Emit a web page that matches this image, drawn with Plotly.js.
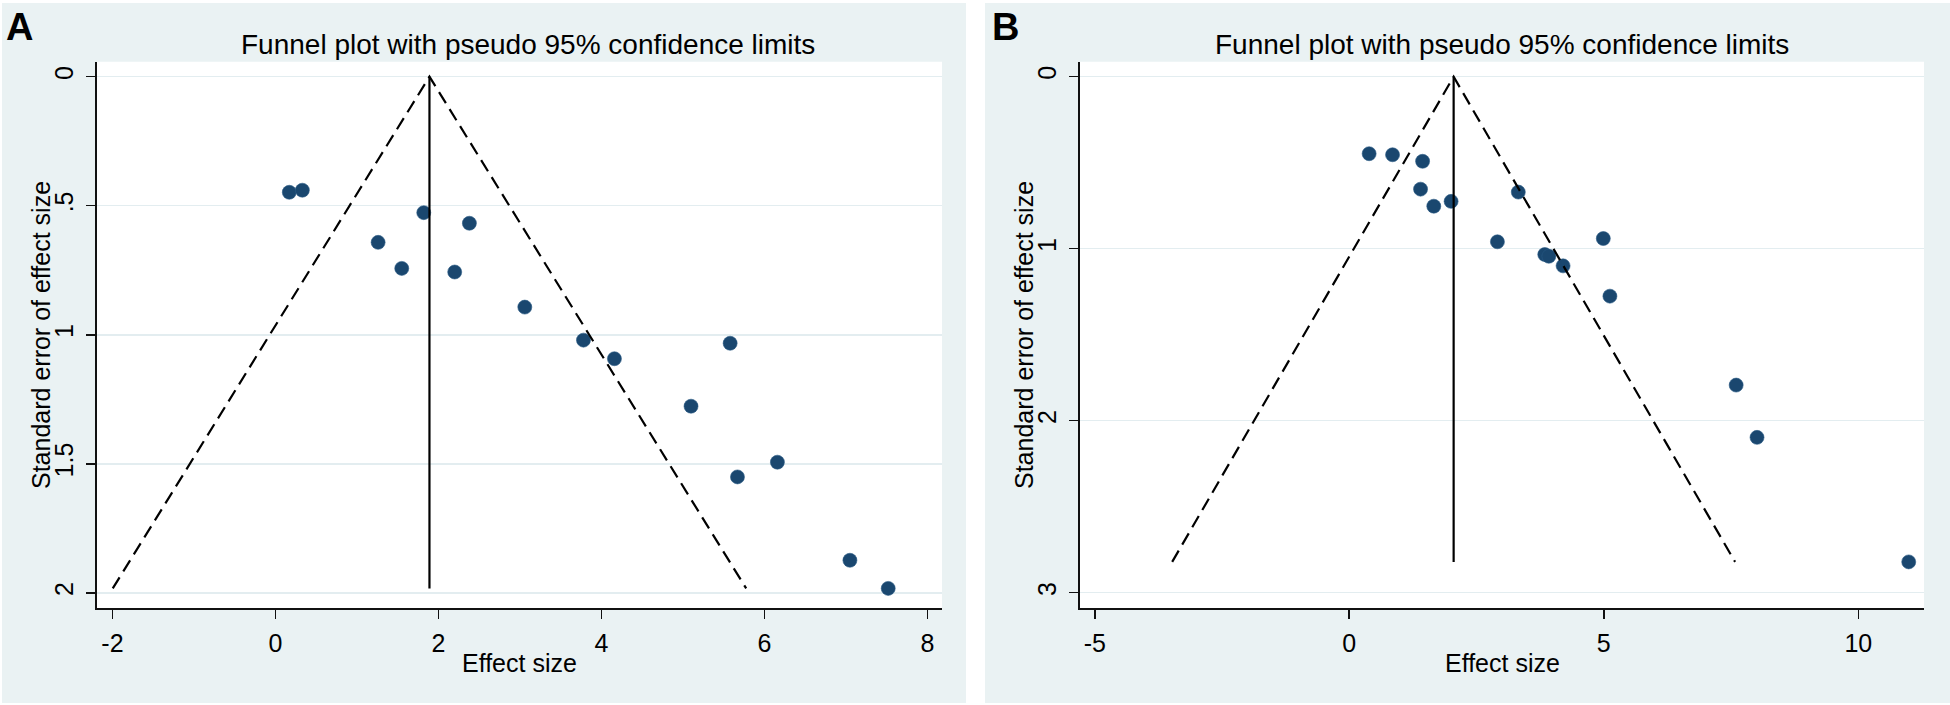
<!DOCTYPE html>
<html>
<head>
<meta charset="utf-8">
<script src="https://cdn.plot.ly/plotly-3.0.1.min.js"></script>
<style>html,body{margin:0;padding:0;background:#fff;}#chart{width:1950px;height:705px;}</style>
</head>
<body>
<div id="chart"></div>
<script>
// ---- data ----
const titleText = "Funnel plot with pseudo 95% confidence limits";
const xTitle = "Effect size";
const yTitle = "Standard error of effect size";

// Panel A
const pooledA = 1.89;
const effectA = [0.17, 0.33, 1.26, 1.55, 1.82, 2.38, 2.20, 3.06, 3.78, 4.16, 5.58, 5.10, 5.67, 6.16, 7.05, 7.52];
const seA     = [0.448, 0.440, 0.642, 0.743, 0.527, 0.568, 0.757, 0.893, 1.021, 1.093, 1.033, 1.277, 1.551, 1.494, 1.874, 1.983];
const xTickA = [-2, 0, 2, 4, 6, 8];
const yTickA = [0, 0.5, 1, 1.5, 2];
const yTickTextA = ["0", ".5", "1", "1.5", "2"];

// Panel B
const pooledB = 2.05;
const effectB = [0.39, 0.85, 1.44, 1.40, 1.66, 2.00, 3.32, 2.91, 4.99, 3.84, 3.92, 4.20, 5.12, 7.60, 8.01, 10.99];
const seB     = [0.448, 0.454, 0.492, 0.654, 0.753, 0.725, 0.671, 0.960, 0.941, 1.034, 1.044, 1.100, 1.276, 1.793, 2.097, 2.821];
const xTickB = [-5, 0, 5, 10];
const yTickB = [0, 1, 2, 3];
const yTickTextB = ["0", "1", "2", "3"];

// ---- styling ----
const W = 1950, H = 705;
const FONT = "Liberation Sans, Arial, sans-serif";
const NAVY = "#1a476f";
const BG = "#eaf2f3";
const px = v => v / W;
const py = v => (H - v) / H;

function panelTraces(effect, se, pooled, xa, ya) {
  const m = Math.max(...se);
  const z = 1.96;
  return [
    {type: "scatter", mode: "markers", x: effect, y: se, xaxis: xa, yaxis: ya,
     marker: {color: NAVY, size: 14, line: {color: "#2a5a85", width: 0.6}}, hoverinfo: "skip"},
    {type: "scatter", mode: "lines", x: [pooled - z * m, pooled, pooled + z * m], y: [m, 0, m],
     xaxis: xa, yaxis: ya, line: {color: "#000", width: 2.2, dash: "13px,7px"}, hoverinfo: "skip"},
    {type: "scatter", mode: "lines", x: [pooled, pooled], y: [0, m],
     xaxis: xa, yaxis: ya, line: {color: "#000", width: 2.2}, hoverinfo: "skip"}
  ];
}

const data = [
  ...panelTraces(effectA, seA, pooledA, "x", "y"),
  ...panelTraces(effectB, seB, pooledB, "x2", "y2")
];

const yDom = [py(608), py(61.7)];
const xDomA = [px(97), px(942)];
const xDomB = [px(1080), px(1924)];

function xAxis(dom, range, ticks, anchor) {
  return {domain: dom, range: range, anchor: anchor, tickvals: ticks, ticktext: ticks.map(String),
    showgrid: false, zeroline: false, showline: true, linecolor: "#111", linewidth: 1.6,
    ticks: "outside", ticklen: 9, tickwidth: 1.6, tickcolor: "#111",
    tickfont: {family: FONT, size: 25, color: "#000"}, ticklabelstandoff: 3, fixedrange: true};
}
function yAxis(range, ticks, text, anchor) {
  return {domain: yDom, range: range, anchor: anchor, tickvals: ticks, ticktext: text,
    showgrid: true, gridcolor: "#e3edf0", gridwidth: 1.6, zeroline: false,
    showline: true, linecolor: "#111", linewidth: 1.6,
    ticks: "outside", ticklen: 9, tickwidth: 1.6, tickcolor: "#111", tickangle: -90,
    tickfont: {family: FONT, size: 25, color: "#000"}, ticklabelstandoff: 3, fixedrange: true};
}

const layout = {
  width: W, height: H,
  margin: {l: 0, r: 0, t: 0, b: 0},
  paper_bgcolor: "#ffffff",
  plot_bgcolor: "rgba(0,0,0,0)",
  showlegend: false,
  font: {family: FONT, color: "#000"},
  xaxis: xAxis(xDomA, [-2.19, 8.18], xTickA, "y"),
  yaxis: yAxis([2.059, -0.058], yTickA, yTickTextA, "x"),
  xaxis2: xAxis(xDomB, [-5.29, 11.29], xTickB, "y2"),
  yaxis2: yAxis([3.089, -0.087], yTickB, yTickTextB, "x2"),
  shapes: [
    {type: "rect", xref: "paper", yref: "paper", x0: px(2), x1: px(966), y0: py(703), y1: py(3),
     fillcolor: BG, line: {width: 0}, layer: "below"},
    {type: "rect", xref: "paper", yref: "paper", x0: px(985), x1: px(1950), y0: py(703), y1: py(3),
     fillcolor: BG, line: {width: 0}, layer: "below"},
    {type: "rect", xref: "paper", yref: "paper", x0: xDomA[0], x1: xDomA[1], y0: yDom[0], y1: yDom[1],
     fillcolor: "#ffffff", line: {width: 0}, layer: "below"},
    {type: "rect", xref: "paper", yref: "paper", x0: xDomB[0], x1: xDomB[1], y0: yDom[0], y1: yDom[1],
     fillcolor: "#ffffff", line: {width: 0}, layer: "below"}
  ],
  annotations: [
    {text: "<b>A</b>", xref: "paper", yref: "paper", x: px(19), y: py(27), showarrow: false,
     xanchor: "center", yanchor: "middle", font: {family: FONT, size: 38, color: "#000"}},
    {text: "<b>B</b>", xref: "paper", yref: "paper", x: px(1006), y: py(27), showarrow: false,
     xanchor: "center", yanchor: "middle", font: {family: FONT, size: 38, color: "#000"}},
    {text: titleText, xref: "paper", yref: "paper", x: px(528), y: py(45), showarrow: false,
     xanchor: "center", yanchor: "middle", font: {family: FONT, size: 28, color: "#000"}},
    {text: titleText, xref: "paper", yref: "paper", x: px(1502), y: py(45), showarrow: false,
     xanchor: "center", yanchor: "middle", font: {family: FONT, size: 28, color: "#000"}},
    {text: xTitle, xref: "paper", yref: "paper", x: px(519.5), y: py(663), showarrow: false,
     xanchor: "center", yanchor: "middle", font: {family: FONT, size: 25, color: "#000"}},
    {text: xTitle, xref: "paper", yref: "paper", x: px(1502), y: py(663), showarrow: false,
     xanchor: "center", yanchor: "middle", font: {family: FONT, size: 25, color: "#000"}},
    {text: yTitle, xref: "paper", yref: "paper", x: px(41), y: py(335), showarrow: false, textangle: -90,
     xanchor: "center", yanchor: "middle", font: {family: FONT, size: 25, color: "#000"}},
    {text: yTitle, xref: "paper", yref: "paper", x: px(1024), y: py(335), showarrow: false, textangle: -90,
     xanchor: "center", yanchor: "middle", font: {family: FONT, size: 25, color: "#000"}}
  ]
};

Plotly.newPlot("chart", data, layout, {displayModeBar: false, staticPlot: true});
</script>
</body>
</html>
